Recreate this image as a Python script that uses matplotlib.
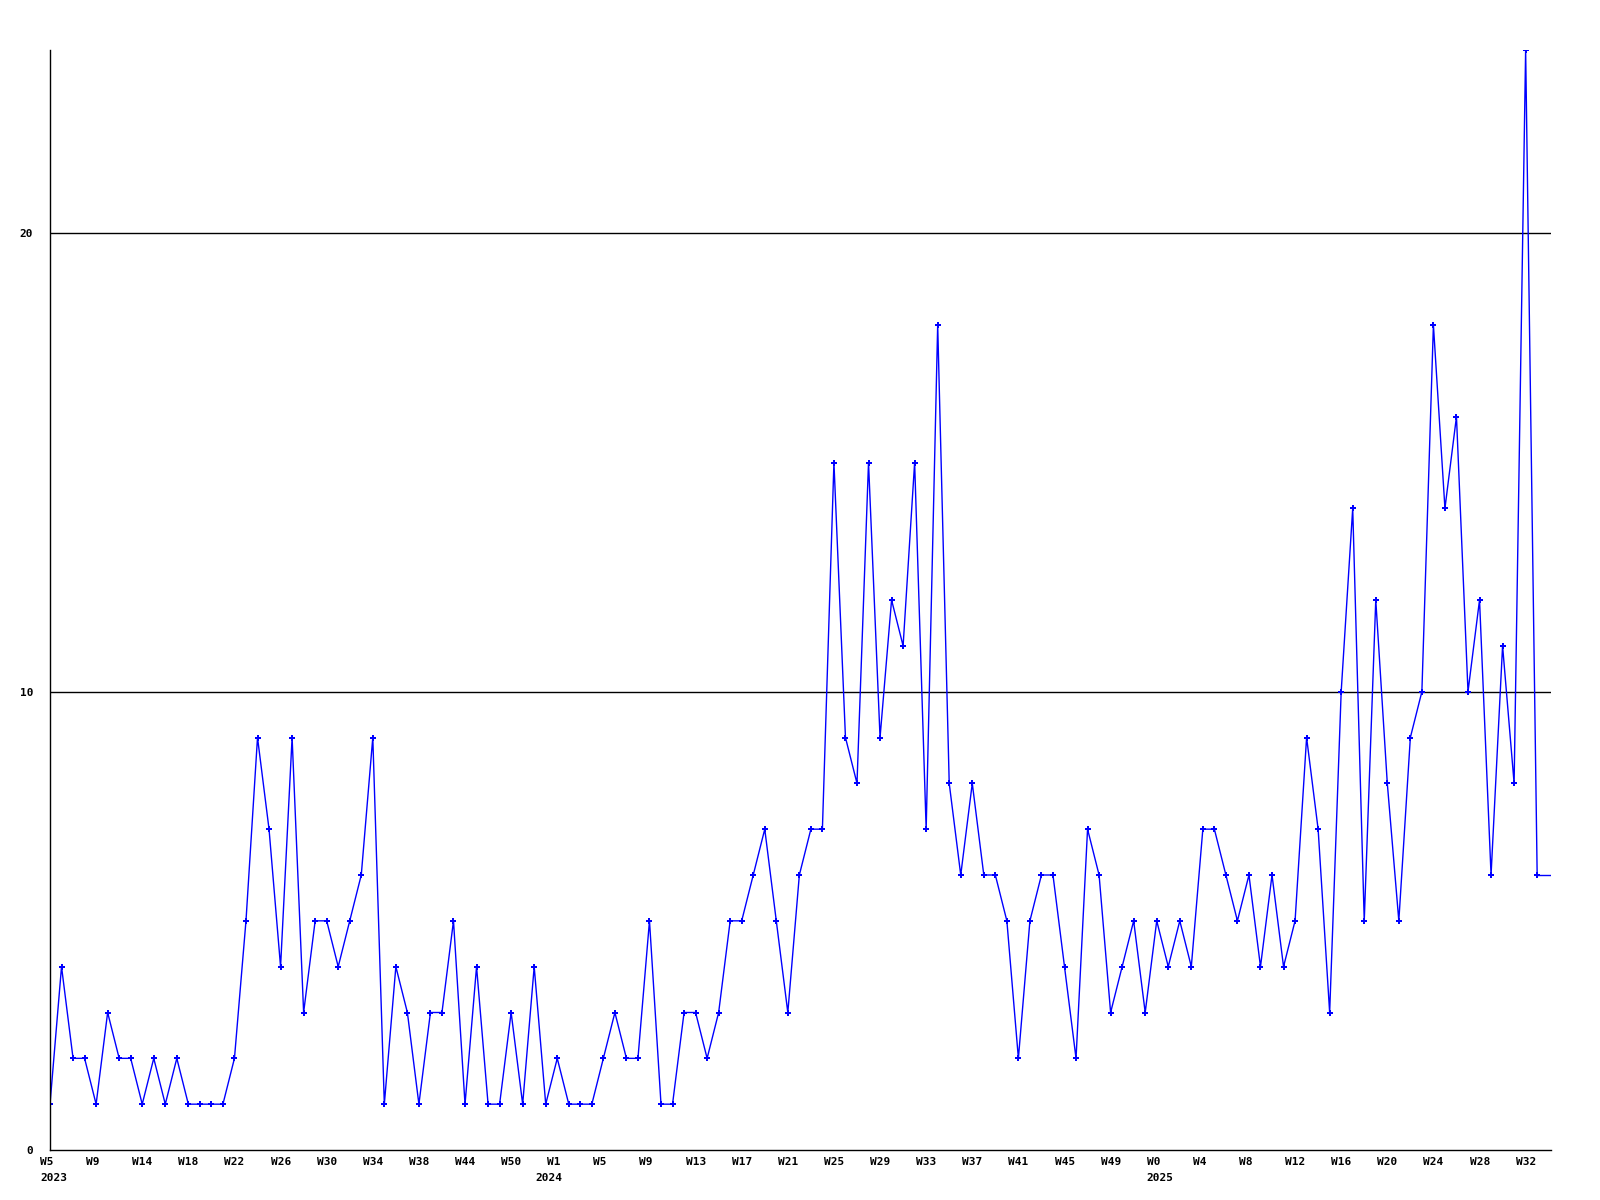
import numpy as np
from matplotlib import pyplot as plt
from matplotlib.transforms import ScaledTranslation

# weekly counts, one per week
counts = [1, 4, 2, 2, 1, 3, 2, 2, 1, 2, 1, 2, 1, 1, 1, 1, 2, 5, 9, 7,
          4, 9, 3, 5, 5, 4, 5, 6, 9, 1, 4, 3, 1, 3, 3, 5, 1, 4, 1, 1,
          3, 1, 4, 1, 2, 1, 1, 1, 2, 3, 2, 2, 5, 1, 1, 3, 3, 2, 3, 5,
          5, 6, 7, 5, 3, 6, 7, 7, 15, 9, 8, 15, 9, 12, 11, 15, 7, 18, 8, 6,
          8, 6, 6, 5, 2, 5, 6, 6, 4, 2, 7, 6, 3, 4, 5, 3, 5, 4, 5, 4,
          7, 7, 6, 5, 6, 4, 6, 4, 5, 9, 7, 3, 10, 14, 5, 12, 8, 5, 9, 10,
          18, 14, 16, 10, 12, 6, 11, 8, 24, 6]

week_labels = ["W5", "W9", "W14", "W18", "W22", "W26", "W30", "W34", "W38",
               "W44", "W50", "W1", "W5", "W9", "W13", "W17", "W21", "W25",
               "W29", "W33", "W37", "W41", "W45", "W49", "W0", "W4", "W8",
               "W12", "W16", "W20", "W24", "W28", "W32"]
# year label -> index of the week where it starts
year_pos = [0, 43, 96]
year_labels = ["2023", "2024", "2025"]

LABEL_STEP = 4
XMAX = 130.2
YMAX = 24

x = np.arange(len(counts))

fig = plt.figure(figsize=(16, 12), dpi=100)
ax = fig.add_axes([50/1600, 50/1200, 1501/1600, 1100/1200])

ax.plot(x, counts, color='#0000ff', linewidth=1.0, marker='P', markersize=4.5,
        markeredgewidth=0)
# the trace carries on flat to the right edge
ax.plot([x[-1], XMAX], [counts[-1], counts[-1]], color='#0000ff', linewidth=1.0)

for v in (10, 20):
    ax.axhline(v, color='k', linewidth=1.0, zorder=0)

ax.set(xlim=(0, XMAX), ylim=(0, YMAX))
ax.spines['top'].set_visible(False)
ax.spines['right'].set_visible(False)
for s in ('left', 'bottom'):
    ax.spines[s].set_linewidth(1.0)
    ax.spines[s].set_color('k')

font = dict(family='DejaVu Sans Mono', weight='bold', size=8)

ax.set_yticks([0, 10, 20])
ax.set_yticklabels(["0", "10", "20"], **font)
ax.tick_params(axis='y', length=0, pad=12)

ticks = x[::LABEL_STEP][:len(week_labels)]
ax.set_xticks(ticks)
ax.set_xticklabels(week_labels, **font)
ax.tick_params(axis='x', length=0, pad=5)
shift = ScaledTranslation(-10/100, 0, fig.dpi_scale_trans)
for lab in ax.get_xticklabels():
    lab.set_horizontalalignment('left')
    lab.set_transform(lab.get_transform() + shift)

ytrans = ax.get_xaxis_transform() + ScaledTranslation(-10/100, -23/100, fig.dpi_scale_trans)
for p, yr in zip(year_pos, year_labels):
    ax.text(x[p], 0, yr, transform=ytrans, ha='left', va='top', **font)

fig.savefig("out.png")
